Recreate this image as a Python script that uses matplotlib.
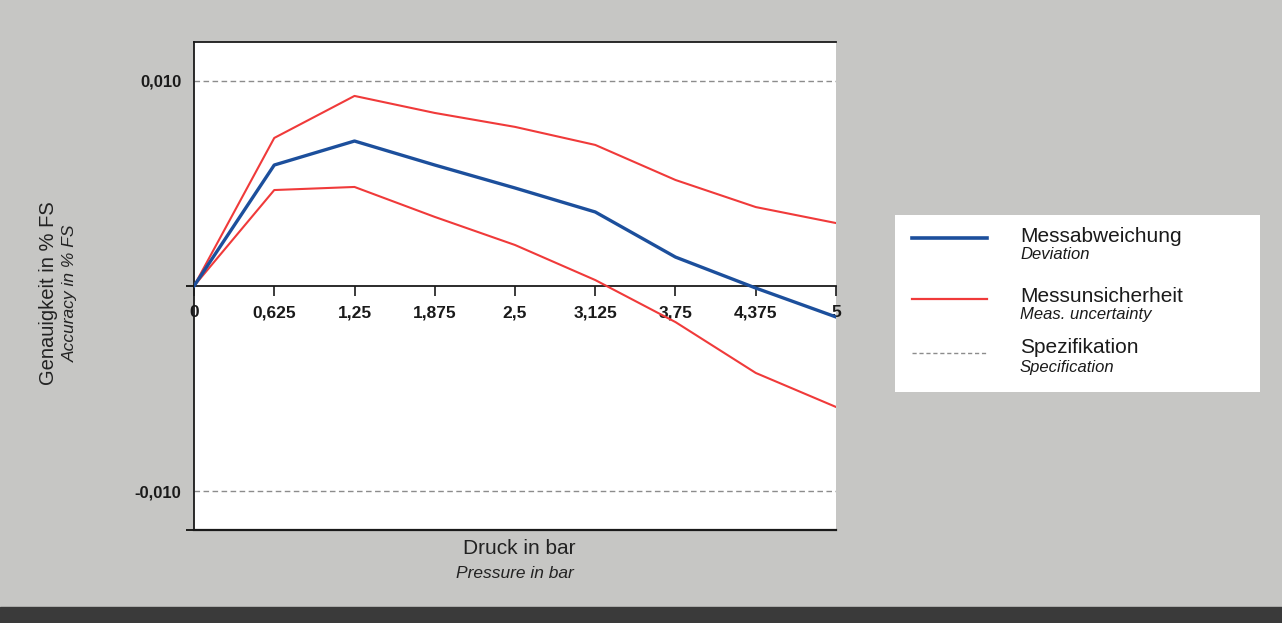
import numpy as np
import matplotlib
matplotlib.use("Agg")
import matplotlib.pyplot as plt
from matplotlib.patches import Rectangle

plt.rcParams["font.family"] = ["Liberation Sans", "DejaVu Sans"]

# Druck in bar
PRESSURE = [0, 0.625, 1.25, 1.875, 2.5, 3.125, 3.75, 4.375, 5]
XTICK_LABELS = ["0", "0,625", "1,25", "1,875", "2,5", "3,125", "3,75", "4,375", "5"]

# Genauigkeit in % FS
DEVIATION = [0.0, 0.0059, 0.00707, 0.0059, 0.00478, 0.00361, 0.00141, -0.0001, -0.00151]
UNC_UPPER = [0.0, 0.00722, 0.00927, 0.00844, 0.00776, 0.00688, 0.00517, 0.00385, 0.00307]
UNC_LOWER = [0.0, 0.00468, 0.00483, 0.00337, 0.0020, 0.00029, -0.00176, -0.00424, -0.0059]
SPEC = 0.010

YTICKS = [-0.010, 0.010]
YTICK_LABELS = ["-0,010", "0,010"]

LEGEND_DE = ["Messabweichung", "Messunsicherheit", "Spezifikation"]
LEGEND_EN = ["Deviation", "Meas. uncertainty", "Specification"]

BLUE = "#1c4f9c"
RED = "#f03a3a"
SPEC_GRAY = "#8c8c8c"
BG = "#c6c6c4"

W, H = 1282, 623
fig = plt.figure(figsize=(W / 100, H / 100), dpi=100)
fig.patch.set_facecolor(BG)
fig.patches.append(Rectangle((0, 0), 1, 16 / H, transform=fig.transFigure,
                             color="#3a3a3a", zorder=0))


def px_box(x0, y0, x1, y1):
    return [x0 / W, 1 - y1 / H, (x1 - x0) / W, (y1 - y0) / H]


ax = fig.add_axes(px_box(194, 42, 836, 530))
ax.set_facecolor("white")

ax.plot(PRESSURE, UNC_UPPER, color=RED, lw=1.5, zorder=3)
ax.plot(PRESSURE, UNC_LOWER, color=RED, lw=1.5, zorder=3)
ax.plot(PRESSURE, DEVIATION, color=BLUE, lw=2.4, zorder=4)
ax.axhline(SPEC, color=SPEC_GRAY, lw=1.0, ls=(0, (4, 2.5)), zorder=2)
ax.axhline(-SPEC, color=SPEC_GRAY, lw=1.0, ls=(0, (4, 2.5)), zorder=2)

ax.set_xlim(0, 5)
ax.set_ylim(-0.0119, 0.0119)

# x axis sits on the zero line
ax.spines["bottom"].set_position(("data", 0))
ax.spines["right"].set_visible(False)
for s in ["bottom", "left", "top"]:
    ax.spines[s].set_color("#1a1a1a")
    ax.spines[s].set_linewidth(1.3)
ax.plot([0, 1], [0, 0], transform=ax.transAxes, color="#1a1a1a", lw=1.6,
        clip_on=False, zorder=5)

ax.set_xticks(PRESSURE)
ax.set_xticklabels(XTICK_LABELS, fontsize=12.5, fontweight="bold")
ax.tick_params(axis="x", direction="out", length=7, width=1.2, pad=7,
               colors="#1a1a1a")

ax.set_yticks(YTICKS)
ax.set_yticklabels(YTICK_LABELS, fontsize=12, fontweight="bold")
ax.tick_params(axis="y", length=0, pad=9, colors="#1a1a1a")
ax.set_yticks([-0.0119, 0], minor=True)
ax.tick_params(axis="y", which="minor", length=6, width=1.2)

# axis titles
fig.text(49 / W, 1 - 293 / H, "Genauigkeit in % FS", rotation=90,
         ha="center", va="center", fontsize=14.5, color="#222222")
fig.text(70 / W, 1 - 293 / H, "Accuracy in % FS", rotation=90, style="italic",
         ha="center", va="center", fontsize=12.5, color="#222222")
fig.text(519 / W, 1 - 549 / H, "Druck in bar", ha="center", va="center",
         fontsize=15, color="#222222")
fig.text(515 / W, 1 - 573 / H, "Pressure in bar", ha="center", va="center",
         style="italic", fontsize=12.5, color="#222222")

# legend box
lx0, ly0, lx1, ly1 = 895, 215, 1260, 392
lax = fig.add_axes(px_box(lx0, ly0, lx1, ly1))
lax.set_facecolor("white")
lax.set_xlim(lx0, lx1)
lax.set_ylim(ly1, ly0)
lax.set_xticks([])
lax.set_yticks([])
for s in lax.spines.values():
    s.set_visible(False)

styles = [dict(color=BLUE, lw=2.6), dict(color=RED, lw=1.6),
          dict(color=SPEC_GRAY, lw=1.0, ls=(0, (3, 2)))]
sample_y = [238, 299, 353]
de_base = [242, 302, 353]
en_base = [259, 319, 372]
for st, sy, yb1, yb2, de, en in zip(styles, sample_y, de_base, en_base,
                                    LEGEND_DE, LEGEND_EN):
    lax.plot([912, 987], [sy, sy], **st)
    lax.text(1020, yb1, de, fontsize=15, va="baseline", color="#1a1a1a")
    lax.text(1020, yb2, en, fontsize=12, va="baseline", style="italic",
             color="#1a1a1a")

fig.savefig("out.png", dpi=100, facecolor=fig.get_facecolor())
